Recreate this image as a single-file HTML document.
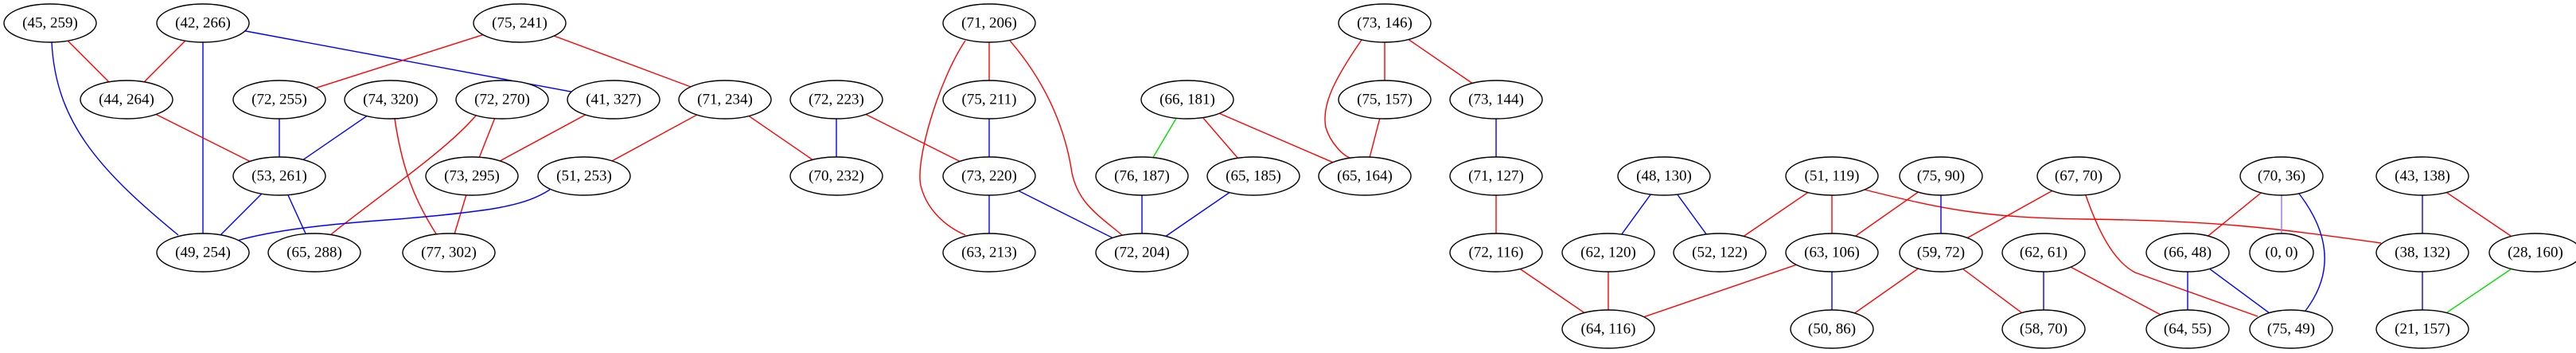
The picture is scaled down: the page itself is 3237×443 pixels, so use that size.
<!DOCTYPE html>
<html><head><meta charset="utf-8"><style>
html,body{margin:0;padding:0;background:#fff;width:3237px;height:443px;overflow:hidden}
text{font-family:"Liberation Serif",serif;font-size:19px;fill:#000}
</style></head><body>
<svg width="3237" height="443" viewBox="0 0 3237 443" xmlns="http://www.w3.org/2000/svg">
<g fill="none" stroke-width="1.4">
<!-- part 1 -->
<line x1="63" y1="29" x2="159" y2="125" stroke="red"/>
<path d="M65,53 C70,150 120,210 224,295" stroke="blue"/>
<line x1="255" y1="29" x2="159" y2="125" stroke="red"/>
<line x1="255" y1="29" x2="255" y2="317" stroke="blue"/>
<line x1="255" y1="29" x2="771" y2="125" stroke="blue"/>
<line x1="653" y1="29" x2="351" y2="125" stroke="red"/>
<line x1="653" y1="29" x2="911" y2="125" stroke="red"/>
<line x1="159" y1="125" x2="351" y2="221" stroke="red"/>
<line x1="351" y1="125" x2="351" y2="221" stroke="blue"/>
<line x1="491" y1="125" x2="351" y2="221" stroke="blue"/>
<path d="M496,149 C505,210 520,250 549,295" stroke="red"/>
<path d="M598,145 C560,190 470,250 415,295" stroke="red"/>
<line x1="631" y1="125" x2="593" y2="221" stroke="red"/>
<line x1="771" y1="125" x2="593" y2="221" stroke="red"/>
<line x1="911" y1="125" x2="734" y2="221" stroke="red"/>
<line x1="911" y1="125" x2="1051" y2="221" stroke="red"/>
<line x1="1051" y1="125" x2="1051" y2="221" stroke="blue"/>
<line x1="1051" y1="125" x2="1243" y2="221" stroke="red"/>
<line x1="351" y1="221" x2="255" y2="317" stroke="blue"/>
<line x1="351" y1="221" x2="395" y2="317" stroke="blue"/>
<line x1="593" y1="221" x2="564" y2="317" stroke="red"/>
<path d="M691,238 C660,258 620,265 500,275 C400,282 340,290 298,302" stroke="blue"/>
<!-- part 2 -->
<line x1="1243" y1="29" x2="1243" y2="125" stroke="red"/>
<path d="M1213,51 C1180,100 1150,200 1157,233 C1165,265 1190,285 1213,295" stroke="red"/>
<path d="M1269,51 C1320,110 1340,170 1347,217 C1355,255 1380,270 1410,295" stroke="red"/>
<line x1="1243" y1="125" x2="1243" y2="221" stroke="blue"/>
<line x1="1243" y1="221" x2="1243" y2="317" stroke="blue"/>
<line x1="1243" y1="221" x2="1435" y2="317" stroke="blue"/>
<line x1="1492" y1="125" x2="1435" y2="221" stroke="#00e000"/>
<line x1="1492" y1="125" x2="1575" y2="221" stroke="red"/>
<line x1="1492" y1="125" x2="1715" y2="221" stroke="red"/>
<line x1="1435" y1="221" x2="1435" y2="317" stroke="blue"/>
<line x1="1575" y1="221" x2="1435" y2="317" stroke="blue"/>
<line x1="1740" y1="29" x2="1740" y2="125" stroke="red"/>
<line x1="1740" y1="29" x2="1880" y2="125" stroke="red"/>
<path d="M1711,50 C1680,95 1660,130 1666,160 C1672,180 1688,195 1696,198" stroke="red"/>
<line x1="1740" y1="125" x2="1715" y2="221" stroke="red"/>
<line x1="1880" y1="125" x2="1880" y2="221" stroke="blue"/>
<line x1="1880" y1="221" x2="1880" y2="317" stroke="red"/>
<line x1="2091" y1="221" x2="2021" y2="317" stroke="blue"/>
<line x1="2091" y1="221" x2="2161" y2="317" stroke="blue"/>
<line x1="1880" y1="317" x2="2021" y2="413" stroke="red"/>
<line x1="2021" y1="317" x2="2021" y2="413" stroke="red"/>
<line x1="2302" y1="317" x2="2021" y2="413" stroke="red"/>
<!-- part 3 -->
<line x1="2302" y1="221" x2="2161" y2="317" stroke="red"/>
<line x1="2302" y1="221" x2="2302" y2="317" stroke="red"/>
<path d="M2343,238 C2450,265 2500,273 2620,275 C2781,277 2850,285 2992,305" stroke="red"/>
<line x1="2439" y1="221" x2="2302" y2="317" stroke="red"/>
<line x1="2439" y1="221" x2="2439" y2="317" stroke="blue"/>
<line x1="2612" y1="221" x2="2439" y2="317" stroke="red"/>
<path d="M2621,245 C2640,300 2660,330 2683,342 L2837,397" stroke="red"/>
<line x1="2867" y1="221" x2="2749" y2="317" stroke="red"/>
<line x1="2867" y1="221" x2="2867" y2="317" stroke="#a070e0"/>
<path d="M2889,243 C2925,290 2935,340 2897,390" stroke="blue"/>
<line x1="3044" y1="221" x2="3044" y2="317" stroke="blue"/>
<line x1="3044" y1="221" x2="3186" y2="317" stroke="red"/>
<line x1="2302" y1="317" x2="2302" y2="413" stroke="blue"/>
<line x1="2439" y1="317" x2="2302" y2="413" stroke="red"/>
<line x1="2439" y1="317" x2="2568" y2="413" stroke="red"/>
<line x1="2568" y1="317" x2="2568" y2="413" stroke="blue"/>
<line x1="2568" y1="317" x2="2749" y2="413" stroke="red"/>
<line x1="2749" y1="317" x2="2749" y2="413" stroke="blue"/>
<line x1="2749" y1="317" x2="2879" y2="413" stroke="blue"/>
<line x1="3044" y1="317" x2="3044" y2="413" stroke="blue"/>
<line x1="3186" y1="317" x2="3044" y2="413" stroke="#00e000"/>
</g>
<g fill="#fff" stroke="#000" stroke-width="1.4">
<ellipse cx="63" cy="29" rx="58" ry="24"/><ellipse cx="255" cy="29" rx="58" ry="24"/><ellipse cx="653" cy="29" rx="58" ry="24"/>
<ellipse cx="159" cy="125" rx="58" ry="24"/><ellipse cx="351" cy="125" rx="58" ry="24"/><ellipse cx="491" cy="125" rx="58" ry="24"/>
<ellipse cx="631" cy="125" rx="58" ry="24"/><ellipse cx="771" cy="125" rx="58" ry="24"/><ellipse cx="911" cy="125" rx="58" ry="24"/>
<ellipse cx="1051" cy="125" rx="58" ry="24"/><ellipse cx="351" cy="221" rx="58" ry="24"/><ellipse cx="593" cy="221" rx="58" ry="24"/>
<ellipse cx="734" cy="221" rx="58" ry="24"/><ellipse cx="1051" cy="221" rx="58" ry="24"/><ellipse cx="255" cy="317" rx="58" ry="24"/>
<ellipse cx="395" cy="317" rx="58" ry="24"/><ellipse cx="564" cy="317" rx="58" ry="24"/>
<ellipse cx="1243" cy="29" rx="58" ry="24"/><ellipse cx="1740" cy="29" rx="58" ry="24"/>
<ellipse cx="1243" cy="125" rx="58" ry="24"/><ellipse cx="1492" cy="125" rx="58" ry="24"/><ellipse cx="1740" cy="125" rx="58" ry="24"/><ellipse cx="1880" cy="125" rx="58" ry="24"/>
<ellipse cx="1243" cy="221" rx="58" ry="24"/><ellipse cx="1435" cy="221" rx="58" ry="24"/><ellipse cx="1575" cy="221" rx="58" ry="24"/><ellipse cx="1715" cy="221" rx="58" ry="24"/>
<ellipse cx="1880" cy="221" rx="58" ry="24"/><ellipse cx="2091" cy="221" rx="58" ry="24"/>
<ellipse cx="1243" cy="317" rx="58" ry="24"/><ellipse cx="1435" cy="317" rx="58" ry="24"/><ellipse cx="1880" cy="317" rx="58" ry="24"/>
<ellipse cx="2021" cy="317" rx="58" ry="24"/><ellipse cx="2161" cy="317" rx="58" ry="24"/><ellipse cx="2021" cy="413" rx="58" ry="24"/>
<ellipse cx="2302" cy="221" rx="58" ry="24"/><ellipse cx="2439" cy="221" rx="52" ry="24"/><ellipse cx="2612" cy="221" rx="52" ry="24"/>
<ellipse cx="2867" cy="221" rx="52" ry="24"/><ellipse cx="3044" cy="221" rx="58" ry="24"/>
<ellipse cx="2302" cy="317" rx="58" ry="24"/><ellipse cx="2439" cy="317" rx="52" ry="24"/><ellipse cx="2568" cy="317" rx="52" ry="24"/>
<ellipse cx="2749" cy="317" rx="52" ry="24"/><ellipse cx="2867" cy="317" rx="40" ry="24"/><ellipse cx="3044" cy="317" rx="58" ry="24"/><ellipse cx="3186" cy="317" rx="58" ry="24"/>
<ellipse cx="2302" cy="413" rx="52" ry="24"/><ellipse cx="2568" cy="413" rx="52" ry="24"/><ellipse cx="2749" cy="413" rx="52" ry="24"/>
<ellipse cx="2879" cy="413" rx="52" ry="24"/><ellipse cx="3044" cy="413" rx="58" ry="24"/>
</g>
<g text-anchor="middle" dominant-baseline="central">
<text x="63" y="29">(45, 259)</text><text x="255" y="29">(42, 266)</text><text x="653" y="29">(75, 241)</text>
<text x="159" y="125">(44, 264)</text><text x="351" y="125">(72, 255)</text><text x="491" y="125">(74, 320)</text>
<text x="631" y="125">(72, 270)</text><text x="771" y="125">(41, 327)</text><text x="911" y="125">(71, 234)</text>
<text x="1051" y="125">(72, 223)</text><text x="351" y="221">(53, 261)</text><text x="593" y="221">(73, 295)</text>
<text x="734" y="221">(51, 253)</text><text x="1051" y="221">(70, 232)</text><text x="255" y="317">(49, 254)</text>
<text x="395" y="317">(65, 288)</text><text x="564" y="317">(77, 302)</text>
<text x="1243" y="29">(71, 206)</text><text x="1740" y="29">(73, 146)</text>
<text x="1243" y="125">(75, 211)</text><text x="1492" y="125">(66, 181)</text><text x="1740" y="125">(75, 157)</text><text x="1880" y="125">(73, 144)</text>
<text x="1243" y="221">(73, 220)</text><text x="1435" y="221">(76, 187)</text><text x="1575" y="221">(65, 185)</text><text x="1715" y="221">(65, 164)</text>
<text x="1880" y="221">(71, 127)</text><text x="2091" y="221">(48, 130)</text>
<text x="1243" y="317">(63, 213)</text><text x="1435" y="317">(72, 204)</text><text x="1880" y="317">(72, 116)</text>
<text x="2021" y="317">(62, 120)</text><text x="2161" y="317">(52, 122)</text><text x="2021" y="413">(64, 116)</text>
<text x="2302" y="221">(51, 119)</text><text x="2439" y="221">(75, 90)</text><text x="2612" y="221">(67, 70)</text>
<text x="2867" y="221">(70, 36)</text><text x="3044" y="221">(43, 138)</text>
<text x="2302" y="317">(63, 106)</text><text x="2439" y="317">(59, 72)</text><text x="2568" y="317">(62, 61)</text>
<text x="2749" y="317">(66, 48)</text><text x="2867" y="317">(0, 0)</text><text x="3044" y="317">(38, 132)</text><text x="3186" y="317">(28, 160)</text>
<text x="2302" y="413">(50, 86)</text><text x="2568" y="413">(58, 70)</text><text x="2749" y="413">(64, 55)</text>
<text x="2879" y="413">(75, 49)</text><text x="3044" y="413">(21, 157)</text>
</g>
</svg>
</body></html>
